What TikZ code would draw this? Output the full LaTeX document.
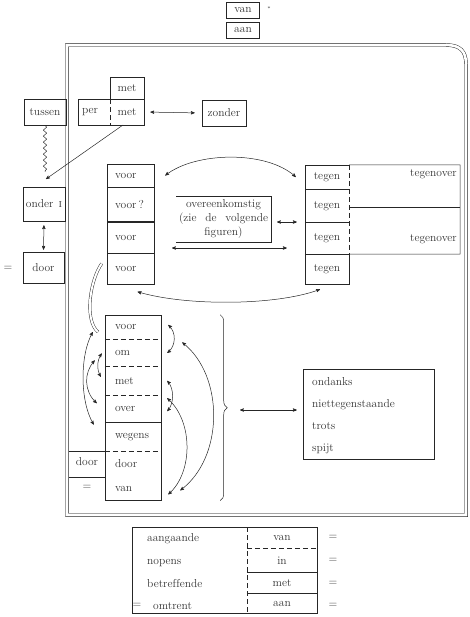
\documentclass[tikz,border=0pt]{standalone}
\usepackage{amsmath}
\usepackage{amssymb}
\usepackage{xcolor}
\usepackage{tikz}
\usetikzlibrary{arrows,shapes,backgrounds,fit,positioning,decorations.pathmorphing,decorations.pathreplacing}

\begin{document}
\begin{tikzpicture}[x=1pt,y=-1pt,>=stealth',font=\fontsize{11.5}{14}\selectfont]
		\tikzstyle{cell}=[draw=black!85, line width=0.5pt, inner sep=0pt, text=black!80]
		\tikzstyle{word}=[inner sep=0pt, text=black!80]
		\tikzstyle{col_cell}=[cell, minimum width=47, text width=31pt, inner xsep=8pt, align=left]
		\tikzstyle{tg_cell}=[word, minimum width=44]
		\tikzstyle{stack_cell}=[word, minimum width=56, text width=36pt, inner xsep=10pt, align=left]
		\tikzstyle{rule}=[draw=black!85, line width=0.5pt]
		\tikzstyle{dash_rule}=[rule, dash pattern=on 5pt off 3pt]
		\tikzstyle{link}=[rule, <->]
		\tikzstyle{frame_line}=[draw=black!85, line width=0.45pt, double, double distance=2.6pt]

		\useasboundingbox (0,0) rectangle (470,617);

		% top pair
		\node [cell, minimum width=33, minimum height=16] (van_top) at (243,10) {van};
		\node [word, font=\tiny] (star) at (269,9) {*};
		\node [cell, minimum width=33, minimum height=16] (aan_top) at (243,30) {aan};

		% frame
		\draw [frame_line] (67,515) -- (67,45) -- (446,45) .. controls (460,45) and (466,51) .. (466,64) -- (466,515) -- cycle;

		% outside the frame
		\node [cell, minimum width=42, minimum height=26] (tussen) at (45,112) {tussen};
		\node [cell, minimum width=42, minimum height=34] (onder) at (44,204) {onder\hspace{5pt}\textsc{i}};
		\node [cell, minimum width=41, minimum height=31] (door_out) at (43.5,267.5) {door};
		\node [word] (eq_out) at (8,268) {=};
		\coordinate (wave_end) at (45,172);
		\coordinate (onder_tip) at (46,179);
		\draw [rule, decorate, decoration={snake, amplitude=1.6pt, segment length=6pt}] (tussen.south) -- (wave_end);
		\draw [link, shorten <=4pt, shorten >=2pt] (onder.south) -- (door_out.north);

		% per / met / zonder
		\node [cell, minimum width=66, minimum height=26] (per_met) at (111,112) {};
		\node [cell, minimum width=34, minimum height=22] (met_up) at (127,88) {met};
		\node [word] (per) at (90,112) {per};
		\node [word] (met_low) at (127,112) {met};
		\draw [dash_rule] (met_up.south west) -- (met_up.south west |- per_met.south);
		\node [cell, minimum width=44, minimum height=26] (zonder) at (224,113) {zonder};
		\draw [link, shorten <=6pt, shorten >=7pt] (per_met.east) -- (zonder.west);
		\coordinate (met_foot) at (123,125);
		\draw [rule, ->] (met_foot) -- (onder_tip);

		% voor / tegen
		\node [col_cell, minimum height=23] (voor1) at (130.5,175.5) {voor};
		\node [col_cell, minimum height=34, below=0pt of voor1] (voor2) {voor\,?};
		\node [col_cell, minimum height=31, below=0pt of voor2] (voor3) {voor};
		\node [col_cell, minimum height=31, below=0pt of voor3] (voor4) {voor};

		\node [tg_cell, minimum height=24] (tegen1) at (327,177) {tegen};
		\node [tg_cell, minimum height=33, below=0pt of tegen1] (tegen2) {tegen};
		\node [tg_cell, minimum height=31, below=0pt of tegen2] (tegen3) {tegen};
		\node [tg_cell, minimum height=30, below=0pt of tegen3] (tegen4) {tegen};
		\draw [rule] (tegen1.north east) -- (tegen1.north west) -- (tegen4.south west) -- (tegen4.south east) -- (tegen4.north east);
		\foreach \row in {tegen1,tegen2,tegen3} \draw [rule] (\row.south west) -- (\row.south east);
		\draw [dash_rule] (tegen1.north east) -- (tegen3.south east);
		\coordinate (tov_ne) at (460,165);
		\coordinate (tov_mid) at (349,207);
		\draw [rule] (tegen1.north east) -- (tov_ne) -- (tov_ne |- tegen3.south) -- (tegen3.south east);
		\draw [rule] (tov_mid) -- (tov_mid -| tov_ne);
		\node [word, anchor=east] (tov1) at (457,174) {tegenover};
		\node [word, anchor=east] (tov2) at (457,239) {tegenover};

		\node [word, align=center] (overeen) at (223.5,219) {overeenkomstig\\\hbox to 89pt{(zie\hfill de\hfill volgende}\\figuren)};
		\coordinate (ov_nw) at (176,196);
		\coordinate (ov_se) at (271,242);
		\draw [rule] (ov_nw) -- (ov_nw -| ov_se) -- (ov_se) -- (ov_se -| ov_nw);
		\coordinate (ov_e) at (271,222);
		\draw [link, shorten <=6pt, shorten >=8pt] (ov_e) -- (ov_e -| tegen2.west);
		\coordinate (long_l) at (172,248);
		\draw [link, shorten >=18pt] (long_l) -- (long_l -| tegen3.west);

		\draw [link] ([xshift=11pt]voor1.east) .. controls (195,152) and (266,150) .. ([xshift=-9pt]tegen1.west);
		\draw [link] ([shift={(7,7)}]voor4.south) .. controls (185,306) and (275,306) .. ([shift={(-7,5)}]tegen4.south);
		\draw [frame_line, double distance=2pt] ([shift={(-5,-5.5)}]voor4.west) .. controls (90,280) and (84,320) .. (98,332);

		% lower stack
		\node [stack_cell, minimum height=24] (st_voor) at (133,327) {voor};
		\node [stack_cell, minimum height=27, below=0pt of st_voor] (st_om) {om};
		\node [stack_cell, minimum height=28, below=0pt of st_om] (st_met) {met};
		\node [stack_cell, minimum height=27, below=0pt of st_met] (st_over) {over};
		\node [stack_cell, minimum height=28, below=0pt of st_over] (st_wegens) {wegens};
		\node [stack_cell, minimum height=26, below=0pt of st_wegens] (st_door) {door};
		\node [stack_cell, minimum height=23, below=0pt of st_door] (st_van) {van};
		\draw [rule] (st_voor.north west) rectangle (st_van.south east);
		\foreach \row in {st_voor,st_om,st_met,st_wegens} \draw [dash_rule] (\row.south west) -- (\row.south east);
		\draw [rule] (st_over.south west) -- (st_over.south east);
		\coordinate (frame_in) at (69,0);
		\draw [rule] (st_door.north west) -- (st_door.north west -| frame_in);
		\draw [rule] (st_door.south west) -- (st_door.south west -| frame_in);
		\node [word] (door_side) at (87,462) {door};
		\node [word] (eq_side) at (87,487) {=};

		\draw [link] ([shift={(-12,5)}]st_voor.west) .. controls +(-13,23) and +(-14,-23) .. ([shift={(-11,-12)}]st_wegens.west);
		\draw [link] ([shift={(-10,7.5)}]st_om.west) .. controls +(-11,12) and +(-13,-12) .. ([shift={(-8,-5.5)}]st_over.west);
		\draw [link] ([shift={(-3,0.5)}]st_om.west) .. controls +(-5,7) and +(-4,-7) .. ([shift={(-4,-4)}]st_met.west);
		\draw [link] ([shift={(7,-2)}]st_voor.east) .. controls +(8,7) and +(9,-7) .. ([shift={(6,0)}]st_om.east);
		\draw [link] ([shift={(6,0)}]st_met.east) .. controls +(7,8) and +(7,-8) .. ([shift={(6,2.5)}]st_over.east);
		\draw [link] ([shift={(6,-10.5)}]st_over.east) .. controls +(26,23) and +(25,-22) .. ([shift={(7,5.5)}]st_van.east);
		\draw [link] ([shift={(21,-10.5)}]st_om.east) .. controls +(42,33) and +(44,-33) .. ([shift={(19,1.5)}]st_van.east);

		% brace and list
		\draw [rule, decorate, decoration={brace, amplitude=7pt}] ([xshift=59pt]st_voor.north east) -- ([xshift=59pt]st_van.south east);
		\coordinate (brace_tip) at (240,410);
		\node [cell, minimum width=131, minimum height=90] (list_box) at (368.5,414) {};
		\draw [link, shorten >=6pt] (brace_tip) -- (brace_tip -| list_box.west);
		\node [word, anchor=base west] (ondanks) at (312,385) {ondanks};
		\node [word, anchor=base west] (nietteg) at (312,407) {niettegenstaande};
		\node [word, anchor=base west] (trots) at (312,429) {trots};
		\node [word, anchor=base west] (spijt) at (312,451) {spijt};

		% bottom table
		\node [cell, minimum width=185, minimum height=85.5] (tab_box) at (224.5,570.25) {};
		\node [word, minimum width=70, minimum height=20.5] (tab_van) at (282,537.75) {van};
		\node [word, minimum width=70, minimum height=24, below=0pt of tab_van] (tab_in) {in};
		\node [word, minimum width=70, minimum height=20, below=0pt of tab_in] (tab_met) {met};
		\node [word, minimum width=70, minimum height=21, below=0pt of tab_met] (tab_aan) {aan};
		\draw [dash_rule] (tab_van.north west) -- (tab_aan.south west);
		\draw [dash_rule] (tab_van.south west) -- (tab_van.south east);
		\draw [rule] (tab_in.south west) -- (tab_in.south east);
		\draw [rule] (tab_met.south west) -- (tab_met.south east);
		\node [word, anchor=base west] (aangaande) at (147,541) {aangaande};
		\node [word, anchor=base west] (nopens) at (147,564) {nopens};
		\node [word, anchor=base west] (betreffende) at (147,587) {betref\/fende};
		\node [word, anchor=base west] (omtrent) at (153,609) {omtrent};
		\node [word] (eq_tab) at (137,605) {=};
		\foreach \y [count=\i] in {537,560,583,605} \node [word] (eq_r\i) at (333,\y) {=};

	\end{tikzpicture}
\end{document}
